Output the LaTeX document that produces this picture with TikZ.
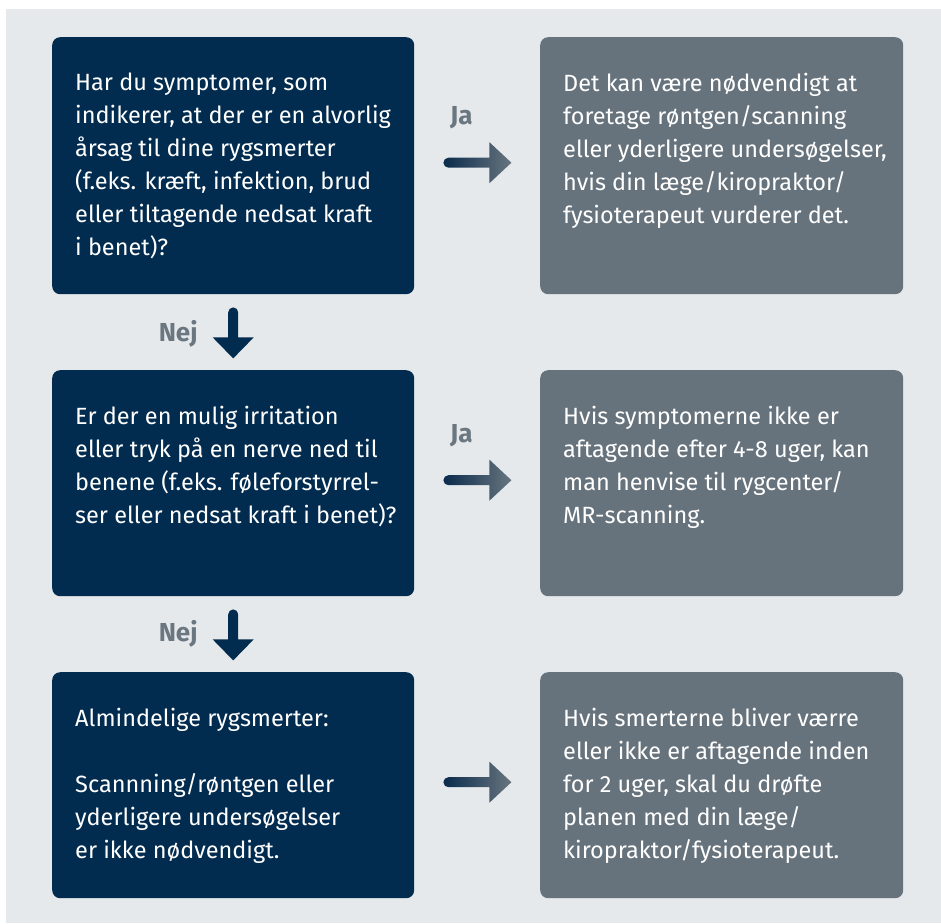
\documentclass[tikz,border=0pt]{standalone}
\usepackage{fontspec}
\setmainfont{Fira Sans}
\usetikzlibrary{calc}
\definecolor{bgc}{HTML}{E6E9EC}
\definecolor{navy}{HTML}{022C4F}
\definecolor{greybox}{HTML}{67737C}
\definecolor{lblgrey}{HTML}{6B7780}
\definecolor{arrA}{HTML}{0A2B4C}
\definecolor{arrB}{HTML}{68757F}
\tikzset{
  qbox/.style={fill=navy, rounded corners=8pt, inner sep=0pt, anchor=north west, minimum width=362pt},
  abox/.style={fill=greybox, rounded corners=8pt, inner sep=0pt, anchor=north west, minimum width=363pt},
  boxtext/.style={anchor=north west, inner sep=0pt, align=left, text=white, font=\fontsize{23.5}{33}\selectfont},
  yesno/.style={text=lblgrey, font=\fontsize{26}{30}\selectfont\bfseries, inner sep=0pt},
  harrow/.style={left color=arrA, right color=arrB},
  varrow/.style={fill=navy}
}
\newcommand\harr[1]{\shade[harrow] (#1) ++(5,-5) arc[start angle=90, end angle=270, radius=5pt] -- ++(41,0) -- ++(0,15.5) -- ++(22,-20.5) -- ++(-22,-20.5) -- ++(0,15.5) -- cycle;}
\newcommand\varr[1]{\fill[varrow] (#1) ++(5,5) arc[start angle=0, end angle=180, radius=5pt] -- ++(0,25) -- ++(-15.5,0) -- ++(20.5,21) -- ++(20.5,-21) -- ++(-15.5,0) -- cycle;}
\begin{document}
\begin{tikzpicture}[x=1pt,y=-1pt]
\useasboundingbox (0,0) rectangle (941,923);
\fill[bgc] (6,9) rectangle (941,923);
% boxes
\node[qbox, minimum height=257pt] (q1) at (52,37) {};
\node[qbox, minimum height=226pt] (q2) at (52,370) {};
\node[qbox, minimum height=226pt] (q3) at (52,672) {};
\node[abox, minimum height=257pt] (a1) at (540,37) {};
\node[abox, minimum height=226pt] (a2) at (540,370) {};
\node[abox, minimum height=226pt] (a3) at (540,672) {};
% texts
\node[boxtext] (q1t) at ($(q1.north west)+(23,36)$) {Har du symptomer, som\\indikerer, at der er en alvorlig\\årsag til dine rygsmerter\\(f.eks. kræft, infektion, brud\\eller tiltagende nedsat kraft\\i benet)?};
\node[boxtext] (q2t) at ($(q2.north west)+(23,36)$) {Er der en mulig irritation\\eller tryk på en nerve ned til\\benene (f.eks. føleforstyrrel-\\ser eller nedsat kraft i benet)?};
\node[boxtext] (q3t) at ($(q3.north west)+(23,36)$) {Almindelige rygsmerter:\\[33pt]Scannning/røntgen eller\\yderligere undersøgelser\\er ikke nødvendigt.};
\node[boxtext] (a1t) at ($(a1.north west)+(23,36)$) {Det kan være nødvendigt at\\foretage røntgen/scanning\\eller yderligere undersøgelser,\\hvis din læge/kiropraktor/\\fysioterapeut vurderer det.};
\node[boxtext] (a2t) at ($(a2.north west)+(23,36)$) {Hvis symptomerne ikke er\\aftagende efter 4-8 uger, kan\\man henvise til rygcenter/\\MR-scanning.};
\node[boxtext] (a3t) at ($(a3.north west)+(23,36)$) {Hvis smerterne bliver værre\\eller ikke er aftagende inden\\for 2 uger, skal du drøfte\\planen med din læge/\\kiropraktor/fysioterapeut.};
% connectors
\coordinate (h1) at ($(q1.east)+(29,-3)$);
\coordinate (h2) at ($(q2.east)+(29,-3)$);
\coordinate (h3) at ($(q3.east)+(29,-3)$);
\coordinate (v1) at ($(q1.south)+(0,13)$);
\coordinate (v2) at ($(q2.south)+(0,13)$);
\harr{h1}
\harr{h2}
\harr{h3}
\varr{v1}
\varr{v2}
% labels
\node[yesno] (ja1) at ($(q1.east)+(47,-48.5)$) {Ja};
\node[yesno] (ja2) at ($(q2.east)+(47,-48)$) {Ja};
\node[yesno] (nej1) at ($(q1.south)+(-55,39)$) {Nej};
\node[yesno] (nej2) at ($(q2.south)+(-55,37)$) {Nej};
\end{tikzpicture}
\end{document}
